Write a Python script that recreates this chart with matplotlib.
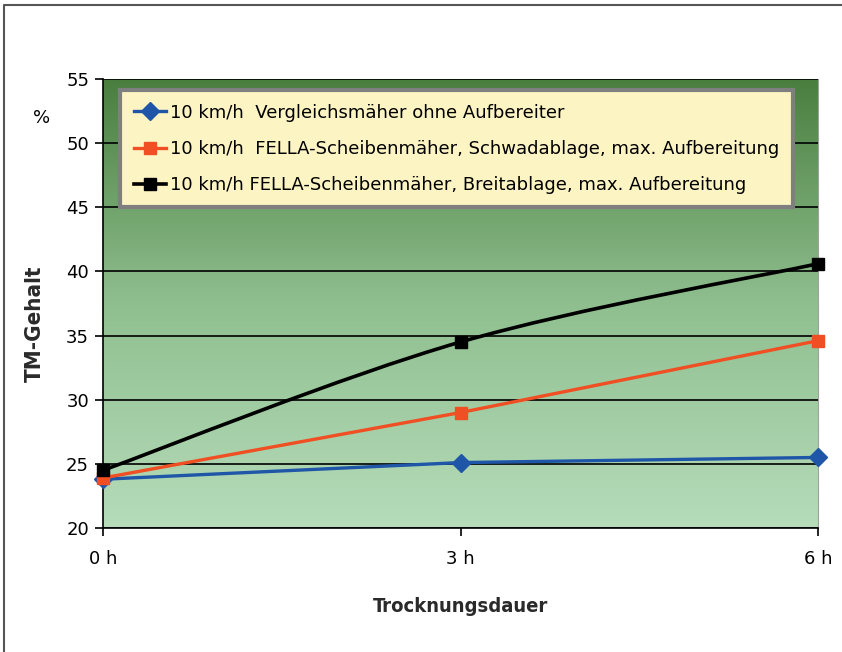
import numpy as np
import matplotlib
matplotlib.use("Agg")
import matplotlib.pyplot as plt
from matplotlib.path import Path
from matplotlib.patches import PathPatch
from matplotlib.lines import Line2D
from matplotlib.colors import LinearSegmentedColormap

# data
hours = [0, 3, 6]
tick_labels = ["0 h", "3 h", "6 h"]
vergleich = [23.8, 25.1, 25.5]
schwad = [23.9, 29.0, 34.6]
breit = [24.5, 34.5, 40.6]
labels = [
    "10 km/h  Vergleichsmäher ohne Aufbereiter",
    "10 km/h  FELLA-Scheibenmäher, Schwadablage, max. Aufbereitung",
    "10 km/h FELLA-Scheibenmäher, Breitablage, max. Aufbereitung",
]

plt.rcParams['font.family'] = ['DejaVu Sans']

fig = plt.figure(figsize=(8.42, 6.52), dpi=100)
ax = fig.add_axes([103/842, 1-528/652, 715/842, 449/652])

# gradient background of the plot area
cmap = LinearSegmentedColormap.from_list("bg", ["#b6dcba", "#8fbf8f", "#4a7e3f"])
grad = np.linspace(0, 1, 256).reshape(-1, 1)
ax.imshow(grad, cmap=cmap, aspect='auto', origin='lower',
          extent=[0, 1, 0, 1], transform=ax.transAxes, zorder=0)

ax.set_xlim(0, 6)
ax.set_ylim(20, 55)
ax.set_yticks(range(20, 56, 5))
ax.set_xticks(hours)
ax.set_xticklabels(tick_labels)
ax.grid(axis='y', color='black', linewidth=1.2, zorder=1)
ax.set_axisbelow(False)
ax.tick_params(axis='both', labelsize=13, length=6, width=1.2, direction='out')
ax.tick_params(axis='x', pad=10)
ax.tick_params(axis='y', pad=4)
ax.spines['top'].set_visible(False)
ax.spines['right'].set_color('#a0a0a0')
ax.spines['left'].set_linewidth(1.2)
ax.spines['bottom'].set_linewidth(1.2)

ax.plot(hours, vergleich, color='#1f56a8', lw=2.4, marker='D', ms=9,
        label=labels[0], zorder=4, clip_on=False)
ax.plot(hours, schwad, color='#f04e23', lw=2.4, marker='s', ms=8,
        label=labels[1], zorder=4, clip_on=False)

# smoothed black line (bezier through the data points, like Excel's smoothing)
p = np.column_stack([hours, breit]).astype(float)
verts = [tuple(p[0])]
codes = [Path.MOVETO]
for i in range(len(p) - 1):
    prev = p[i - 1] if i > 0 else p[i]
    nxt = p[i + 2] if i + 2 < len(p) else p[i + 1]
    c1 = p[i] + (p[i + 1] - prev) / 6
    c2 = p[i + 1] - (nxt - p[i]) / 6
    verts += [tuple(c1), tuple(c2), tuple(p[i + 1])]
    codes += [Path.CURVE4] * 3
ax.add_patch(PathPatch(Path(verts, codes), facecolor='none', edgecolor='black',
                       lw=2.6, zorder=5, clip_on=False))
ax.plot(hours, breit, color='black', lw=0, marker='s', ms=8, zorder=6, clip_on=False)
black_handle = Line2D([], [], color='black', lw=2.6, marker='s', ms=8)

handles, _ = ax.get_legend_handles_labels()
leg = ax.legend(handles + [black_handle], labels, loc='upper left',
                bbox_to_anchor=(0.024, 0.975), fontsize=13, handlelength=1.8,
                handletextpad=0.2, labelspacing=1.0, borderpad=0.75,
                borderaxespad=0, fancybox=False, framealpha=1)
leg.get_frame().set_facecolor('#fdf4c3')
leg.get_frame().set_edgecolor('#7f7f7f')
leg.get_frame().set_linewidth(3)
leg.set_zorder(10)

lab_font = dict(family='DejaVu Sans', fontstretch='condensed', weight='bold',
                color='#2a2a2a')
fig.text(35/842, 1-324/652, "TM-Gehalt", rotation=90, ha='center', va='center',
         fontsize=16, **lab_font)
fig.text(461/842, 1-607/652, "Trocknungsdauer", ha='center', va='center',
         fontsize=14.5, **lab_font)
fig.text(42/842, 1-118/652, "%", fontsize=13, ha='center', va='center')

# outer frame
fig.add_artist(Line2D([4/842, 4/842, 1], [0, 1-5/652, 1-5/652],
                      transform=fig.transFigure, color='#555555', lw=1.5))

fig.savefig("out.png", dpi=100)
